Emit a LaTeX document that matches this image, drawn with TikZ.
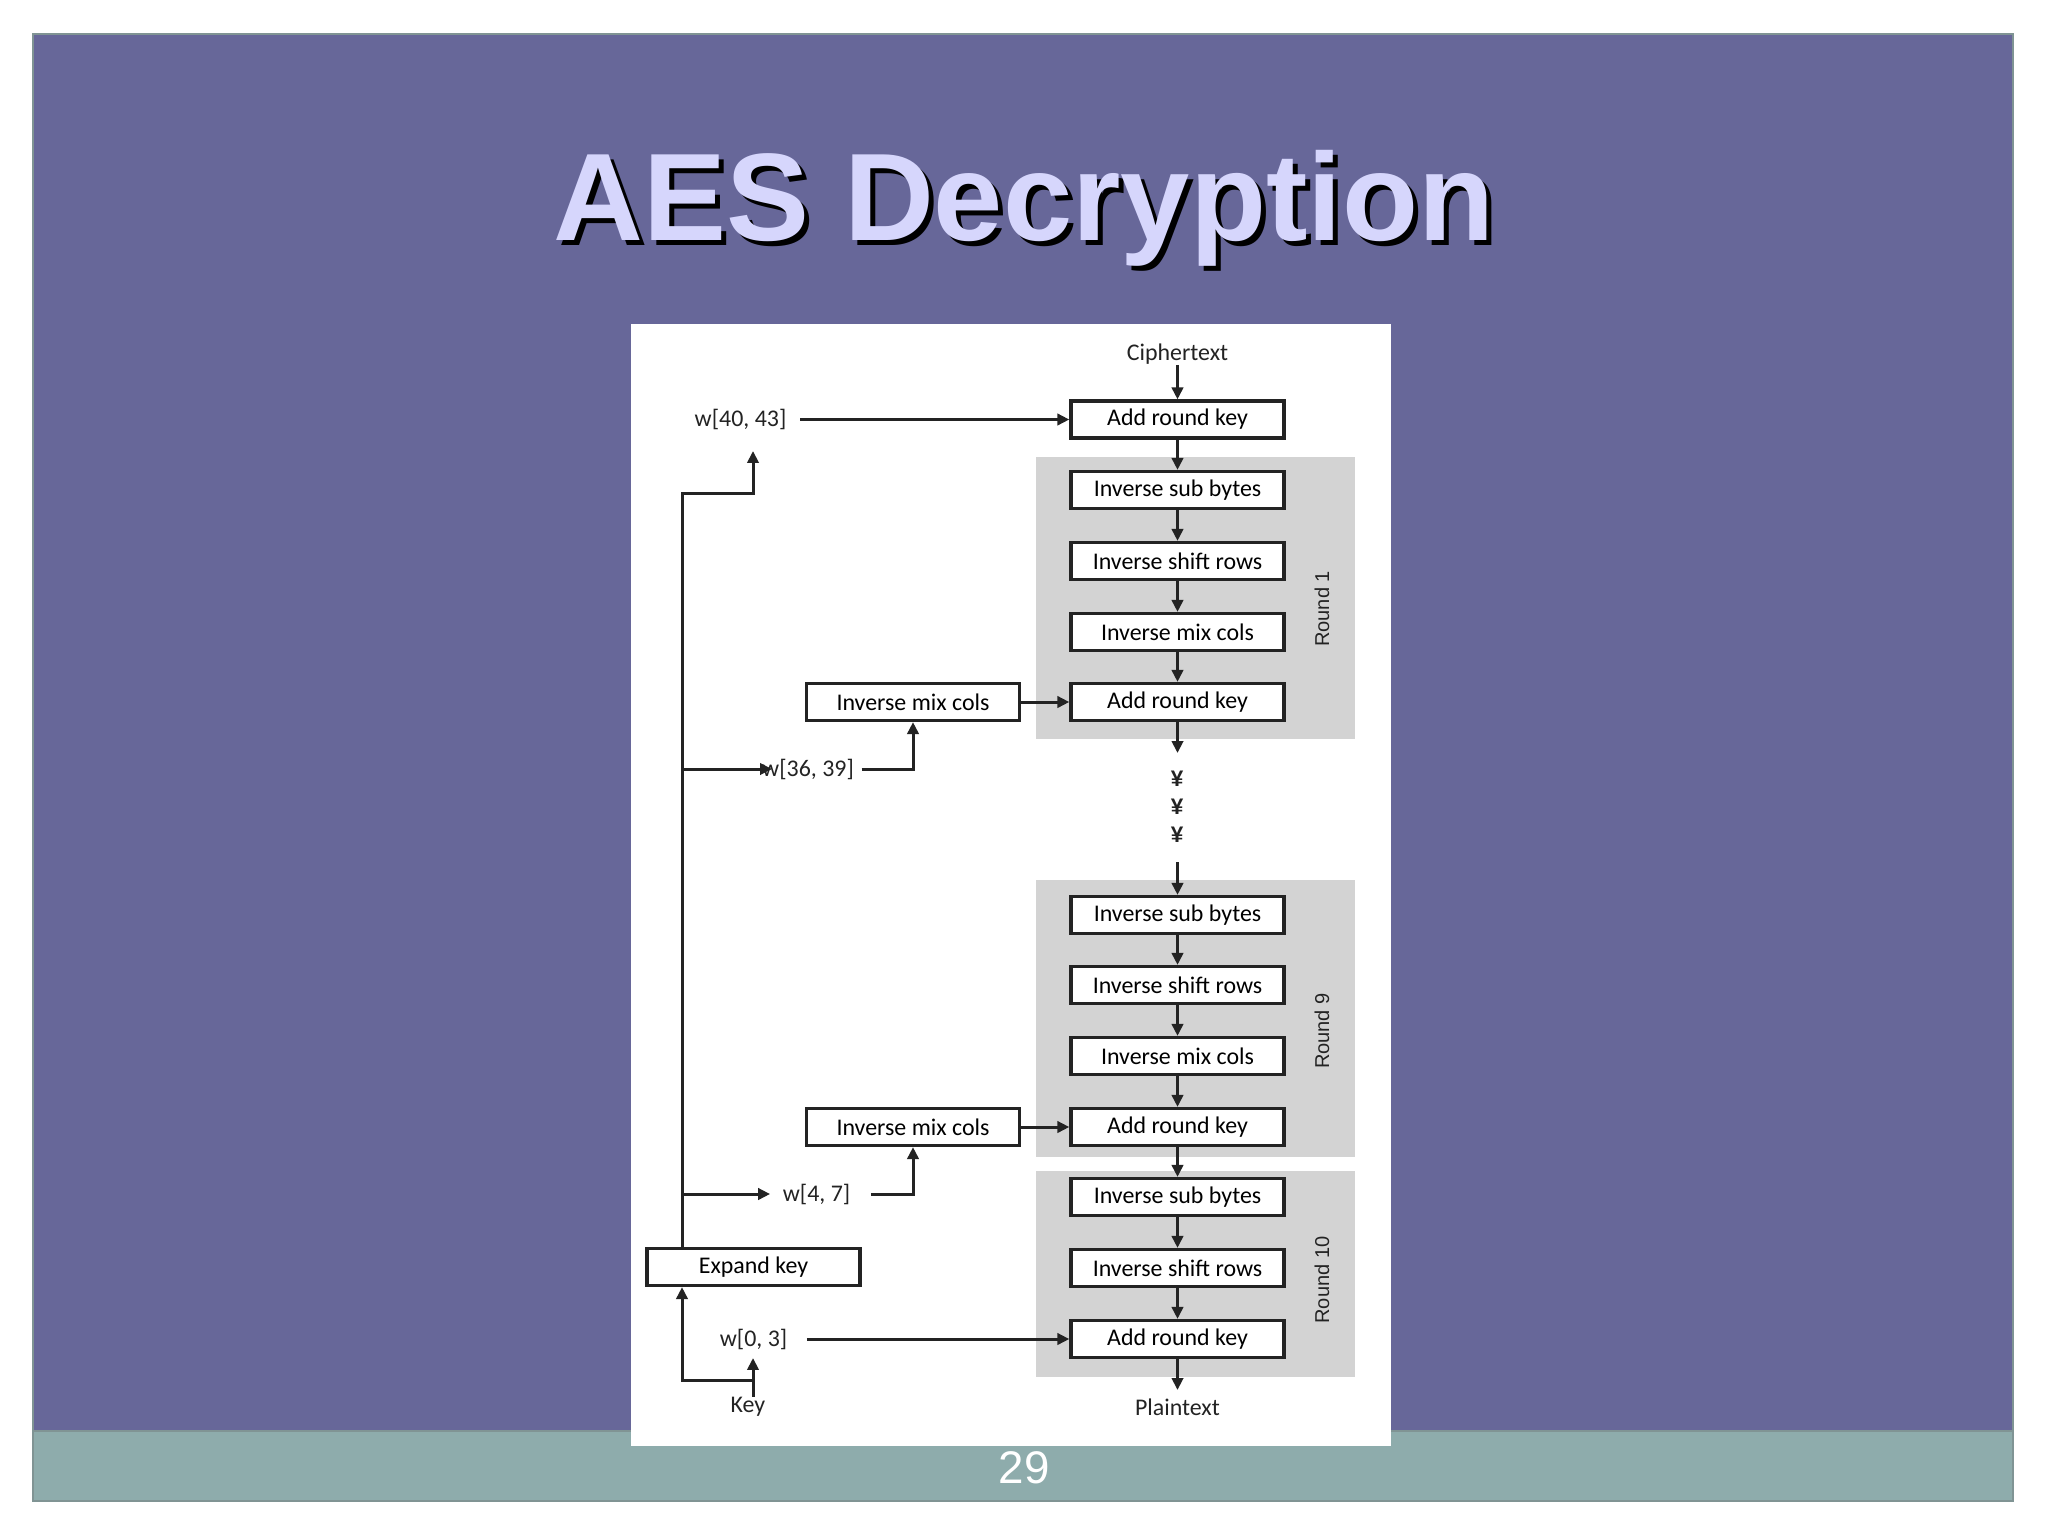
\documentclass[tikz,border=0pt]{standalone}
\usepackage{fontspec}
\setmainfont{Carlito}
\newfontfamily\arialfont{Liberation Sans}
\usetikzlibrary{arrows.meta}
\definecolor{slidebg}{RGB}{103,103,153}
\definecolor{bandbg}{RGB}{142,172,172}
\definecolor{titlefg}{RGB}{214,214,252}
\definecolor{roundbg}{RGB}{211,211,211}
\definecolor{edgegray}{RGB}{128,148,148}
\definecolor{ink}{RGB}{35,35,35}
\begin{document}
\begin{tikzpicture}[x=0.01cm,y=-0.01cm,
  stepbox/.style={draw=ink, line width=0.9pt, fill=white, minimum width=2.13cm,
    minimum height=0.37cm, inner sep=0pt, font=\fontsize{6.8}{8}\selectfont},
  lbl/.style={inner sep=0pt, font=\fontsize{6.8}{8}\selectfont, text=ink},
  roundlbl/.style={inner sep=0pt, rotate=90, font=\arialfont\fontsize{5.7}{7}\selectfont, text=ink},
  dotlbl/.style={inner sep=0pt, font=\arialfont\bfseries\fontsize{6.4}{7}\selectfont, text=ink},
  flow/.style={draw=ink, line width=0.85pt, -{Triangle[length=3.4pt,width=3.2pt]}},
  plainline/.style={draw=ink, line width=0.85pt}]
\useasboundingbox (0,0) rectangle (2048,1536);
% background
\fill[white] (0,0) rectangle (2048,1536);
\draw[edgegray, line width=0.6pt, fill=slidebg] (33,34) rectangle (2013,1431);
\draw[edgegray, line width=0.6pt, fill=bandbg] (33,1431) rectangle (2013,1501);
% title
\node[anchor=base, inner sep=0pt, text=black, font=\arialfont\bfseries\fontsize{35.4}{40}\selectfont] (titleshadow) at (1029,245) {AES Decryption};
\node[anchor=base, inner sep=0pt, text=titlefg, font=\arialfont\bfseries\fontsize{35.4}{40}\selectfont] (title) at (1024,240) {AES Decryption};
% page number
\node[inner sep=0pt, text=white, font=\arialfont\fontsize{13}{15}\selectfont] (pnum) at (1024,1468) {29};
% figure sheet
\fill[white] (631,324) rectangle (1391,1446);
% round panels
\fill[roundbg] (1036,457) rectangle (1355,739);
\fill[roundbg] (1036,880) rectangle (1355,1157);
\fill[roundbg] (1036,1171) rectangle (1355,1377);
\node[roundlbl] (r1) at (1322,609) {Round 1};
\node[roundlbl] (r9) at (1322,1031) {Round 9};
\node[roundlbl] (r10) at (1322,1280) {Round 10};
% main column
\node[lbl] (cipher) at (1177.5,354) {Ciphertext};
\node[stepbox] (ark0) at (1177.5,419.5) {Add round key};
\node[stepbox] (isb1) at (1177.5,490) {Inverse sub bytes};
\node[stepbox] (isr1) at (1177.5,561) {Inverse shift rows};
\node[stepbox] (imc1) at (1177.5,632) {Inverse mix cols};
\node[stepbox] (ark1) at (1177.5,702) {Add round key};
\node[stepbox] (limc1) at (913,702) {Inverse mix cols};
\coordinate (dotsA) at (1177.5,753);
\node[dotlbl] (y1) at (1177,779) {¥};
\node[dotlbl] (y2) at (1177,807) {¥};
\node[dotlbl] (y3) at (1177,835) {¥};
\coordinate (dotsB) at (1177.5,862);
\node[stepbox] (isb9) at (1177.5,915) {Inverse sub bytes};
\node[stepbox] (isr9) at (1177.5,985) {Inverse shift rows};
\node[stepbox] (imc9) at (1177.5,1056) {Inverse mix cols};
\node[stepbox] (ark9) at (1177.5,1127) {Add round key};
\node[stepbox] (limc9) at (913,1127) {Inverse mix cols};
\node[stepbox] (isb10) at (1177.5,1197) {Inverse sub bytes};
\node[stepbox] (isr10) at (1177.5,1268) {Inverse shift rows};
\node[stepbox] (ark10) at (1177.5,1339) {Add round key};
\coordinate (pend) at (1177.5,1390);
\node[lbl] (plain) at (1177.5,1407) {Plaintext};
% key side
\node[stepbox] (expand) at (753.5,1267) {Expand key};
\node[lbl] (key) at (748,1407) {Key};
\node[lbl] (w4043) at (740.5,419.5) {w[40, 43]};
\node[lbl] (w3639) at (808,769) {w[36, 39]};
\node[lbl] (w47) at (816.5,1194) {w[4, 7]};
\node[lbl] (w03) at (753.5,1339) {w[0, 3]};
\coordinate (kb1) at (682,493);
\coordinate (t4043) at (753,451);
\coordinate (b1) at (682,769);
\coordinate (a3639) at (772,769);
\coordinate (b2) at (682,1194);
\coordinate (t03) at (753,1358);
\coordinate (kb0) at (753,1380);
% main flow
\draw[flow] (cipher) -- (ark0);
\draw[flow] (ark0) -- (isb1);
\draw[flow] (isb1) -- (isr1);
\draw[flow] (isr1) -- (imc1);
\draw[flow] (imc1) -- (ark1);
\draw[flow] (ark1) -- (dotsA);
\draw[flow] (dotsB) -- (isb9);
\draw[flow] (isb9) -- (isr9);
\draw[flow] (isr9) -- (imc9);
\draw[flow] (imc9) -- (ark9);
\draw[flow] (ark9) -- (isb10);
\draw[flow] (isb10) -- (isr10);
\draw[flow] (isr10) -- (ark10);
\draw[flow] (ark10) -- (pend);
\draw[flow] (limc1) -- (ark1);
\draw[flow] (limc9) -- (ark9);
% round keys
\draw[flow] ([xshift=0.13cm]w4043.east) -- (ark0);
\draw[flow] ([xshift=0.19cm]w03.east) -- (ark10);
\draw[flow] (expand.north -| kb1) -- (kb1) -| (t4043);
\draw[flow] (b1) -- (a3639);
\draw[flow] ([xshift=0.07cm]w3639.east) -| (limc1.south);
\draw[flow] (b2) -- ([xshift=-0.12cm]w47.west);
\draw[flow] ([xshift=0.2cm]w47.east) -| (limc9.south);
\draw[flow] (key.north -| t03) -- (t03);
\draw[flow] (kb0) -| (expand.south -| kb1);
\end{tikzpicture}
\end{document}
